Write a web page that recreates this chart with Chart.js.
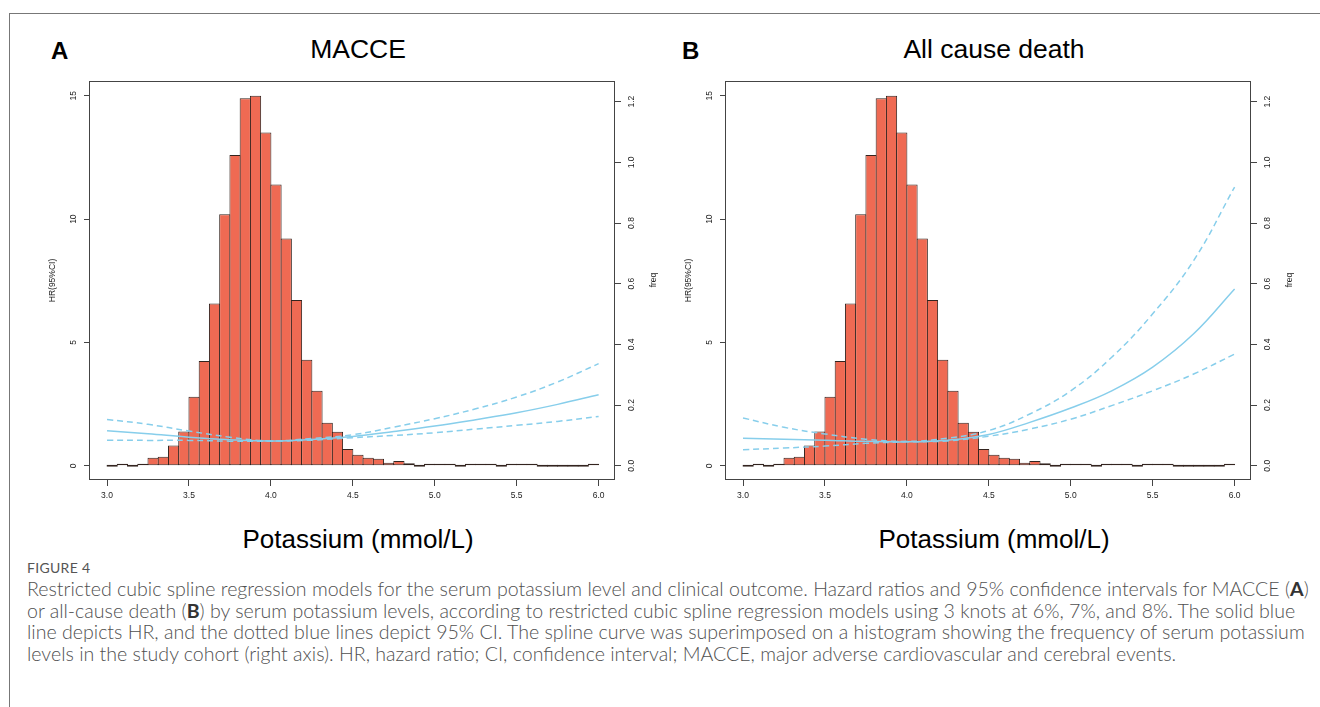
<!DOCTYPE html>
<html lang="en">
<head>
  <meta charset="UTF-8">
  <title>Restricted cubic spline - serum potassium</title>
  <script src="https://cdn.jsdelivr.net/npm/chart.js"></script>
  <style>
    body {
      margin: 0;
      width: 1320px;
      height: 707px;
      overflow: hidden;
      background: #fff;
      font-family: "Liberation Sans", Arial, sans-serif;
      position: relative;
    }
    .frame {
      position: absolute;
      left: 9px; top: 13px; right: 0; bottom: 0;
      border-top: 1px solid #777;
      border-left: 1px solid #777;
    }
    canvas { position: absolute; top: 0; }
    .abs { position: absolute; line-height: 1; white-space: nowrap; color: #000; }
    .letter { font-size: 24px; font-weight: bold; }
    .title { font-size: 26.5px; transform: translateX(-50%); }
    .xlab { font-size: 26px; transform: translateX(-50%); }
    .freq { font-size: 8.5px; color: #222; transform: translate(-50%, -50%) rotate(-90deg); }
    #caption {
      position: absolute;
      left: 27px; top: 558px;
      font-family: Lato, "Open Sans", sans-serif;
      color: #505050;
    }
    #caption .fig { font-size: 14px; color: #555; line-height: 20px; letter-spacing: 0.3px; }
    #caption .txt { font-size: 17px; line-height: 21.7px; font-weight: 300; }
    #caption .txt span { white-space: nowrap; display: inline-block; }
    #caption b { color: #333; font-weight: 700; }
  </style>
</head>
<body>
  <div class="frame"></div>

  <div class="abs letter" style="left:51px; top:39px;">A</div>
  <div class="abs title" style="left:358px; top:36px;">MACCE</div>
  <div class="abs letter" style="left:682px; top:39px;">B</div>
  <div class="abs title" style="left:994px; top:36px;">All cause death</div>

  <canvas id="chartA" width="660" height="520" style="left:0px;"></canvas>
  <canvas id="chartB" width="660" height="520" style="left:636px;"></canvas>

  <div class="abs freq" style="left:653px; top:280px;">freq</div>
  <div class="abs freq" style="left:1289px; top:280px;">freq</div>

  <div class="abs xlab" style="left:358px; top:526px;">Potassium (mmol/L)</div>
  <div class="abs xlab" style="left:994px; top:526px;">Potassium (mmol/L)</div>

  <div id="caption">
    <div class="fig">FIGURE 4</div>
    <div class="txt">
      <span class="l1">Restricted cubic spline regression models for the serum potassium level and clinical outcome. Hazard ratios and 95% confidence intervals for MACCE (<b>A</b>)</span><br>
      <span>or all-cause death (<b>B</b>) by serum potassium levels, according to restricted cubic spline regression models using 3 knots at 6%, 7%, and 8%. The solid blue</span><br>
      <span>line depicts HR, and the dotted blue lines depict 95% CI. The spline curve was superimposed on a histogram showing the frequency of serum potassium</span><br>
      <span>levels in the study cohort (right axis). HR, hazard ratio; CI, confidence interval; MACCE, major adverse cardiovascular and cerebral events.</span>
    </div>
  </div>

  <script>
    // histogram of serum potassium, bins of 0.0625 from 3.0 to 6.0 (right axis, freq)
    const binStart = 3.0;
    const binWidth = 0.0625;
    const histFreq = [
      0, 0.005, 0, 0.005, 0.026, 0.030, 0.067, 0.113,
      0.227, 0.345, 0.535, 0.829, 1.024, 1.211, 1.219, 1.098,
      0.927, 0.749, 0.546, 0.349, 0.247, 0.142, 0.112, 0.055,
      0.036, 0.026, 0.023, 0.010, 0.016, 0.008, 0, 0.003,
      0.001, 0.003, 0, 0.001, 0.001, 0.002, 0, 0.002,
      0.001, 0.001, 0, 0, 0, 0, 0, 0.001
    ];

    // spline curves (left axis, HR)
    const potassium = [3.0, 3.25, 3.5, 3.75, 4.0, 4.25, 4.5, 4.75, 5.0, 5.25, 5.5, 5.75, 6.0];

    const maccHR    = [1.42, 1.30, 1.16, 1.06, 1.01, 1.07, 1.19, 1.39, 1.61, 1.87, 2.15, 2.49, 2.88];
    const maccUpper = [1.88, 1.68, 1.41, 1.16, 1.01, 1.11, 1.26, 1.57, 1.91, 2.31, 2.79, 3.40, 4.14];
    const maccLower = [1.04, 1.03, 1.03, 1.00, 1.00, 1.04, 1.14, 1.23, 1.34, 1.49, 1.64, 1.80, 2.00];

    const deathHR    = [1.12, 1.08, 1.04, 0.99, 0.97, 1.04, 1.27, 1.76, 2.34, 3.04, 4.00, 5.35, 7.17];
    const deathUpper = [1.94, 1.56, 1.29, 1.08, 0.99, 1.12, 1.43, 2.10, 3.04, 4.40, 6.16, 8.32, 11.30];
    const deathLower = [0.65, 0.72, 0.80, 0.91, 0.97, 1.01, 1.20, 1.49, 1.89, 2.44, 3.04, 3.72, 4.53];

    // axis ticks
    const xTicks = [3.0, 3.5, 4.0, 4.5, 5.0, 5.5, 6.0];
    const hrTicks = [0, 5, 10, 15];
    const freqTicks = [0, 0.2, 0.4, 0.6, 0.8, 1.0, 1.2];

    const tickFont = { family: "'Liberation Sans', Arial, sans-serif", size: 8.5 };
    const axisColor = '#444';

    const boxPlugin = {
      id: 'box',
      afterDraw(chart) {
        const a = chart.chartArea;
        const ctx = chart.ctx;
        ctx.save();
        ctx.strokeStyle = axisColor;
        ctx.lineWidth = 1;
        ctx.strokeRect(a.left + 0.5, a.top + 0.5, a.right - a.left - 1, a.bottom - a.top - 1);
        ctx.restore();
      }
    };

    function curve(xs, ys) {
      return xs.map((x, i) => ({ x: x, y: ys[i] }));
    }

    function makeChart(id, hr, upper, lower) {
      const bars = histFreq.map((f, i) => ({ x: binStart + binWidth * (i + 0.5), y: f }));
      const lineStyle = {
        type: 'line',
        yAxisID: 'y',
        borderColor: '#87CEEB',
        borderWidth: 1.5,
        pointRadius: 0,
        tension: 0.4,
        fill: false,
        order: 1
      };
      return new Chart(document.getElementById(id), {
        data: {
          datasets: [
            Object.assign({}, lineStyle, { label: 'HR', data: curve(potassium, hr) }),
            Object.assign({}, lineStyle, { label: 'Upper 95% CI', data: curve(potassium, upper), borderDash: [6, 4] }),
            Object.assign({}, lineStyle, { label: 'Lower 95% CI', data: curve(potassium, lower), borderDash: [6, 4] }),
            {
              type: 'bar',
              label: 'freq',
              yAxisID: 'y2',
              data: bars,
              backgroundColor: '#EF6A53',
              borderColor: '#33241f',
              borderWidth: 1,
              borderSkipped: false,
              minBarLength: 2,
              barPercentage: 1.0976,
              categoryPercentage: 1,
              grouped: false,
              order: 2
            }
          ]
        },
        options: {
          responsive: false,
          animation: false,
          layout: { padding: { top: 81, right: 0, bottom: 0, left: 0 } },
          plugins: { legend: { display: false }, tooltip: { enabled: false } },
          scales: {
            x: {
              type: 'linear',
              position: 'bottom',
              offset: false,
              min: 2.89,
              max: 6.10,
              afterBuildTicks: s => { s.ticks = xTicks.map(v => ({ value: v })); },
              afterFit: s => { s.height = 40; },
              border: { display: false },
              grid: { display: true, offset: false, drawOnChartArea: false, drawTicks: true, tickLength: 6, color: axisColor },
              ticks: { font: tickFont, color: '#222', padding: 5, callback: v => v.toFixed(1) }
            },
            y: {
              type: 'linear',
              position: 'left',
              min: -0.576,
              max: 15.6,
              afterBuildTicks: s => { s.ticks = hrTicks.map(v => ({ value: v })); },
              afterFit: s => { s.width = 89; },
              border: { display: false },
              grid: { display: true, drawOnChartArea: false, drawTicks: true, tickLength: 5, color: axisColor },
              ticks: { font: tickFont, color: '#222', padding: 6, minRotation: 90, maxRotation: 90, crossAlign: 'center', callback: v => String(v) },
              title: { display: true, text: 'HR(95%CI)', font: tickFont, color: '#222', padding: { top: 47.6, bottom: 0 } }
            },
            y2: {
              type: 'linear',
              position: 'right',
              min: -0.047,
              max: 1.268,
              afterBuildTicks: s => { s.ticks = freqTicks.map(v => ({ value: v })); },
              afterFit: s => { s.width = 45; },
              border: { display: false },
              grid: { display: true, drawOnChartArea: false, drawTicks: true, tickLength: 6, color: axisColor },
              ticks: { font: tickFont, color: '#222', padding: 5, minRotation: 90, maxRotation: 90, crossAlign: 'center', callback: v => v.toFixed(1) }
            }
          }
        },
        plugins: [boxPlugin]
      });
    }

    makeChart('chartA', maccHR, maccUpper, maccLower);
    makeChart('chartB', deathHR, deathUpper, deathLower);

    // fit caption width to the reference column
    const cap = document.querySelector('#caption .txt');
    const first = cap.querySelector('.l1');
    const w = first.getBoundingClientRect().width;
    cap.style.fontSize = (17 * 1283 / w) + 'px';
  </script>
</body>
</html>
